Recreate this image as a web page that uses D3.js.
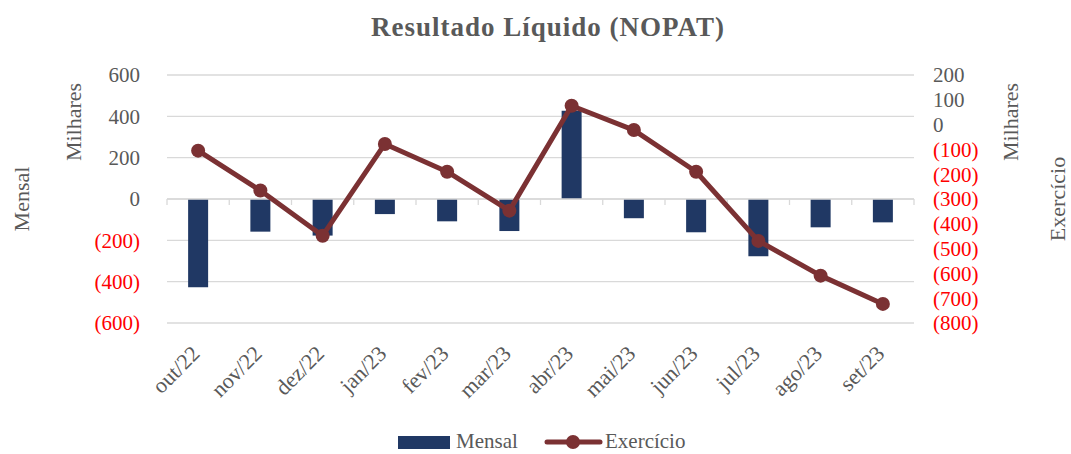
<!DOCTYPE html>
<html>
<head>
<meta charset="utf-8">
<script src="https://cdn.jsdelivr.net/npm/d3@7"></script>
<style>
  body { margin: 0; background: #fff; }
  text { font-family: "Liberation Serif", "DejaVu Serif", serif; }
</style>
</head>
<body>
<div id="chart"></div>
<script>
// data (thousands)
var months = ["out/22", "nov/22", "dez/22", "jan/23", "fev/23", "mar/23", "abr/23", "mai/23", "jun/23", "jul/23", "ago/23", "set/23"];
var mensal = [-427, -158, -177, -73, -108, -155, 427, -93, -161, -277, -137, -113];
var exercicio = [-105, -266, -448, -78, -190, -347, 76, -22, -190, -469, -609, -723];
var leftTicks = [600, 400, 200, 0, -200, -400, -600];
var rightTicks = [200, 100, 0, -100, -200, -300, -400, -500, -600, -700, -800];

var width = 1071, height = 454;
var plotLeft = 167, plotRight = 914, plotTop = 75, plotBottom = 323;
var red = "#7b3133", navy = "#203864", grey = "#595959";

var svg = d3.select("#chart").append("svg").attr("width", width).attr("height", height);

var x = d3.scaleBand().domain(months).range([plotLeft, plotRight]);
var yL = d3.scaleLinear().domain([-600, 600]).range([plotBottom, plotTop]);
var yR = d3.scaleLinear().domain([-800, 200]).range([plotBottom, plotTop]);

var fmt = function(v) { return v < 0 ? "(" + Math.abs(v) + ")" : String(v); };

// gridlines
svg.selectAll(".grid").data(leftTicks).enter().append("line")
  .attr("x1", plotLeft).attr("x2", plotRight)
  .attr("y1", function(d) { return yL(d); }).attr("y2", function(d) { return yL(d); })
  .attr("stroke", "#d9d9d9").attr("stroke-width", 1.3);

// left axis labels
svg.selectAll(".ly").data(leftTicks).enter().append("text")
  .attr("x", 140).attr("y", function(d) { return yL(d); }).attr("dy", "0.35em")
  .attr("text-anchor", "end").attr("font-size", 21)
  .attr("fill", function(d) { return d < 0 ? "#ff0000" : grey; })
  .text(fmt);

// right axis labels
svg.selectAll(".ry").data(rightTicks).enter().append("text")
  .attr("x", 933).attr("y", function(d) { return yR(d); }).attr("dy", "0.35em")
  .attr("text-anchor", "start").attr("font-size", 21)
  .attr("fill", function(d) { return d < 0 ? "#ff0000" : grey; })
  .text(fmt);

// bars
svg.selectAll(".bar").data(mensal).enter().append("rect")
  .attr("x", function(d, i) { return x(months[i]) + x.bandwidth() / 2 - 10; })
  .attr("width", 20)
  .attr("y", function(d) { return yL(Math.max(0, d)); })
  .attr("height", function(d) { return Math.abs(yL(d) - yL(0)); })
  .attr("fill", navy);

// zero axis with category ticks
svg.append("line").attr("x1", plotLeft).attr("x2", plotRight).attr("y1", yL(0)).attr("y2", yL(0))
  .attr("stroke", "#d9d9d9").attr("stroke-width", 1.3);
svg.selectAll(".tk").data(d3.range(months.length + 1)).enter().append("line")
  .attr("x1", function(i) { return plotLeft + i * x.step(); })
  .attr("x2", function(i) { return plotLeft + i * x.step(); })
  .attr("y1", yL(0)).attr("y2", yL(0) + 6)
  .attr("stroke", "#d9d9d9").attr("stroke-width", 1.3);

// line series
var line = d3.line()
  .x(function(d, i) { return x(months[i]) + x.bandwidth() / 2; })
  .y(function(d) { return yR(d); });
svg.append("path").datum(exercicio).attr("d", line)
  .attr("fill", "none").attr("stroke", red).attr("stroke-width", 5).attr("stroke-linejoin", "round");
svg.selectAll(".pt").data(exercicio).enter().append("circle")
  .attr("cx", function(d, i) { return x(months[i]) + x.bandwidth() / 2; })
  .attr("cy", function(d) { return yR(d); })
  .attr("r", 7).attr("fill", red);

// x labels
svg.selectAll(".xl").data(months).enter().append("text")
  .attr("transform", function(d) { return "translate(" + (x(d) + x.bandwidth() / 2 + 3) + "," + 355 + ") rotate(-45)"; })
  .attr("text-anchor", "end").attr("font-size", 22).attr("fill", grey)
  .text(function(d) { return d; });

// title
svg.append("text").attr("x", 548).attr("y", 36).attr("text-anchor", "middle")
  .attr("font-size", 27).attr("font-weight", "bold").attr("letter-spacing", 1).attr("fill", grey)
  .text("Resultado Líquido (NOPAT)");

// axis titles
function vtext(tx, ty, s) {
  svg.append("text").attr("transform", "translate(" + tx + "," + ty + ") rotate(-90)")
    .attr("text-anchor", "middle").attr("font-size", 22).attr("fill", grey).text(s);
}
vtext(29, 199, "Mensal");
vtext(81, 122, "Milhares");
vtext(1018, 122, "Milhares");
vtext(1065, 199, "Exercício");

// legend
svg.append("rect").attr("x", 398).attr("y", 436).attr("width", 52).attr("height", 13).attr("fill", navy);
svg.append("text").attr("x", 456).attr("y", 448).attr("font-size", 21).attr("fill", grey).text("Mensal");
svg.append("line").attr("x1", 547).attr("x2", 600).attr("y1", 442).attr("y2", 442)
  .attr("stroke", red).attr("stroke-width", 5).attr("stroke-linecap", "round");
svg.append("circle").attr("cx", 573).attr("cy", 442).attr("r", 7).attr("fill", red);
svg.append("text").attr("x", 605).attr("y", 448).attr("font-size", 21).attr("fill", grey).text("Exercício");
</script>
</body>
</html>
